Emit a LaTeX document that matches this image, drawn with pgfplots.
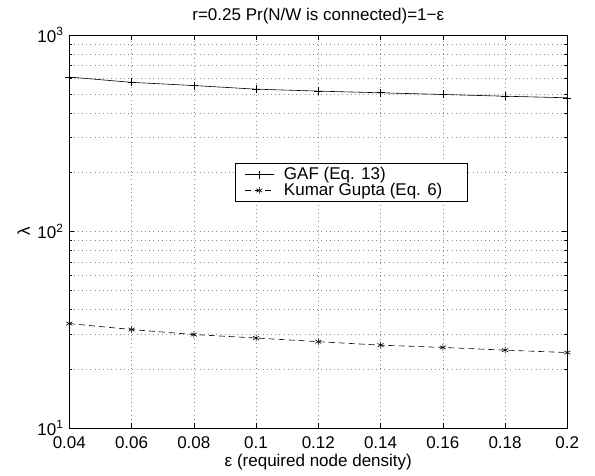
\documentclass[border=0pt]{standalone}
\usepackage{fontspec}
\setmainfont{Liberation Sans}
\usepackage{pgfplots}
\pgfplotsset{compat=1.18}

\newcommand{\fs}{\fontsize{17bp}{20bp}\selectfont}

\begin{document}
\fs
\begin{tikzpicture}
% fixes the page to the reference's frame
\path (-69.3bp,-45bp) rectangle (525.7bp,428bp);
\begin{axis}[
    at={(0,0)}, anchor=south west,
    scale only axis,
    width=498bp, height=393bp,
    ymode=log,
    xmin=0.04, xmax=0.2,
    ymin=10, ymax=1000,
    xtick={0.04,0.06,0.08,0.1,0.12,0.14,0.16,0.18,0.2},
    xticklabels={0.04,0.06,0.08,0.1,0.12,0.14,0.16,0.18,0.2},
    ytick={10,100,1000},
    yticklabels={10\textsuperscript{1},10\textsuperscript{2},10\textsuperscript{3}},
    tick align=inside,
    major tick length=5bp,
    minor tick length=3bp,
    axis line style={line width=0.8pt},
    every tick/.style={black, line width=0.6pt},
    grid=both,
    xminorgrids=false,
    major grid style={black!45, line width=0.5pt, dash pattern=on 0.8bp off 3.4bp},
    minor grid style={black!45, line width=0.5pt, dash pattern=on 0.8bp off 3.4bp},
    title={r=0.25 Pr(N/W is connected)=1−ε},
    title style={font=\fs, yshift=-1bp},
    xlabel={ε (required node density)},
    ylabel={λ},
    label style={font=\fs},
    xlabel style={yshift=6bp},
    ylabel style={yshift=-4bp},
    ticklabel style={font=\fs},
    xticklabel style={yshift=-3bp},
    legend style={at={(rel axis cs:0.3335,0.6735)}, anchor=north west,
        draw=black, line width=0.8pt, fill=white,
        font=\fs, inner xsep=9bp, inner ysep=1.5bp, row sep=-3bp},
    legend cell align=left,
    legend image code/.code={%
        \draw[mark repeat=2, mark phase=2, #1]
        plot coordinates {(0bp,0bp) (14.3bp,0bp) (28.6bp,0bp)};},
]
\addplot[black, line width=0.6pt, mark=+, mark size=4bp, mark options={solid}]
coordinates {
(0.04,611) (0.06,574) (0.08,553) (0.10,530) (0.12,518)
(0.14,508) (0.16,498) (0.18,488) (0.20,479)
};
\addlegendentry{\hspace*{8bp}GAF (Eq. 13)}
\addplot[black, line width=0.6pt, dash pattern=on 6bp off 4bp,
    mark=asterisk, mark size=3.5bp, mark options={solid}]
coordinates {
(0.04,34.0) (0.06,31.7) (0.08,29.9) (0.10,28.7) (0.12,27.5)
(0.14,26.4) (0.16,25.7) (0.18,24.9) (0.20,24.2)
};
\addlegendentry{\hspace*{8bp}Kumar Gupta (Eq. 6)\hspace*{14bp}}
\end{axis}
\end{tikzpicture}
\end{document}
